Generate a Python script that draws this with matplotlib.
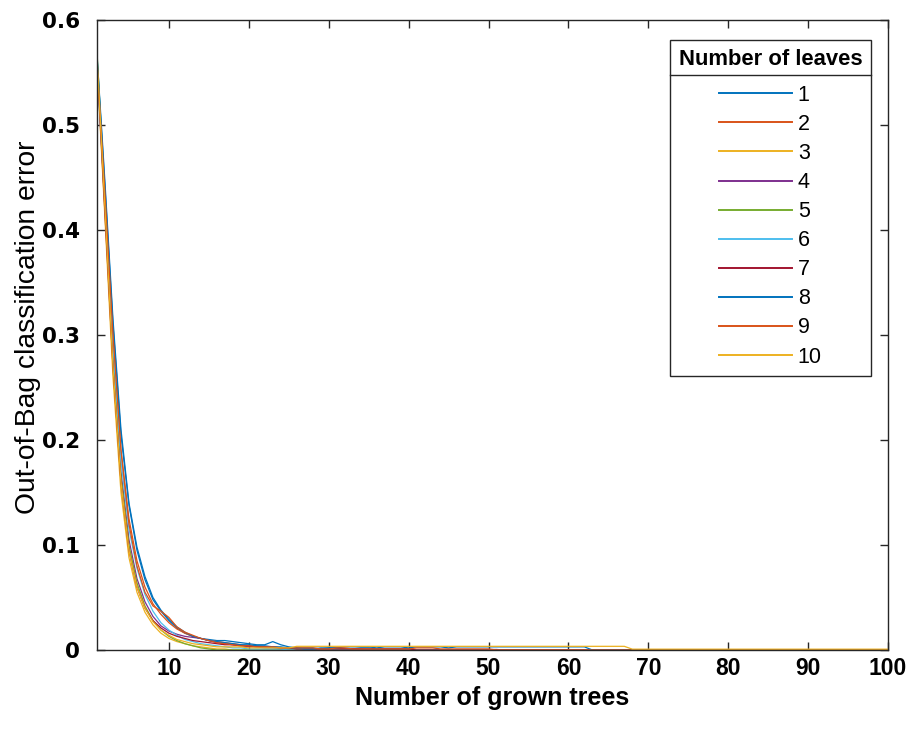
import matplotlib
matplotlib.use("Agg")
import matplotlib.pyplot as plt
from matplotlib.lines import Line2D
import numpy as np

# ---------------- data ----------------
n_trees = list(range(1, 101))
leaf_labels = ["1", "2", "3", "4", "5", "6", "7", "8", "9", "10"]

def pad(vals, tail=0.0):
    return vals + [tail] * (100 - len(vals))

err_1 = pad([0.565, 0.44, 0.31, 0.205, 0.138, 0.095, 0.067, 0.048, 0.037, 0.028,
             0.021, 0.016, 0.013, 0.011, 0.010, 0.009, 0.009, 0.008, 0.007, 0.006,
             0.005, 0.005, 0.008, 0.005, 0.003, 0.002, 0.002, 0.002, 0.001, 0.002,
             0.002, 0.001, 0.001, 0.002, 0.002, 0.001, 0.001, 0.001, 0.001, 0.001])
err_2 = pad([0.562, 0.43, 0.30, 0.19, 0.125, 0.085, 0.060, 0.044, 0.034, 0.026,
             0.020, 0.016, 0.013, 0.011, 0.009, 0.008, 0.007, 0.006, 0.005, 0.004,
             0.004, 0.003, 0.003, 0.002, 0.002, 0.001, 0.001, 0.001])
err_3 = pad([0.558, 0.41, 0.26, 0.15, 0.088, 0.055, 0.036, 0.024, 0.016, 0.011,
             0.008, 0.006, 0.004, 0.003, 0.002, 0.001, 0.001])
err_4 = pad([0.563, 0.42, 0.28, 0.17, 0.105, 0.068, 0.046, 0.032, 0.023, 0.018,
             0.015, 0.013, 0.012, 0.011, 0.009, 0.007, 0.006, 0.005, 0.004, 0.003,
             0.003, 0.002, 0.002, 0.001, 0.001, 0.001, 0.001, 0.001, 0.001, 0.001,
             0.001, 0.001, 0.001, 0.001, 0.0, 0.0, 0.0, 0.0, 0.0, 0.0,
             0.0, 0.0, 0.0, 0.0, 0.0, 0.0005, 0.0005, 0.0005, 0.0005, 0.0005, 0.0005])
err_5 = pad([0.570, 0.43, 0.28, 0.165, 0.10, 0.064, 0.042, 0.028, 0.019, 0.013,
             0.009, 0.006, 0.004, 0.002, 0.001])
err_6 = pad([0.555, 0.425, 0.29, 0.18, 0.115, 0.078, 0.053, 0.037, 0.026, 0.019,
             0.014, 0.010, 0.008, 0.006, 0.005, 0.004, 0.003, 0.002, 0.002, 0.001,
             0.001, 0.001, 0.001, 0.001])
err_7 = pad([0.560, 0.415, 0.27, 0.16, 0.095, 0.060, 0.040, 0.028, 0.021, 0.016,
             0.013, 0.011, 0.009, 0.008, 0.007, 0.006, 0.005, 0.005, 0.004, 0.004,
             0.003, 0.003, 0.003, 0.002, 0.002, 0.001, 0.001, 0.001, 0.001, 0.001,
             0.001, 0.001, 0.001, 0.001, 0.001, 0.001, 0.001, 0.001, 0.001, 0.001])
err_8 = pad([0.567, 0.445, 0.315, 0.21, 0.14, 0.098, 0.070, 0.050, 0.038, 0.029,
             0.022, 0.017, 0.013, 0.011, 0.009, 0.008, 0.007, 0.006, 0.005, 0.005,
             0.004, 0.004, 0.003, 0.003, 0.002, 0.002, 0.001, 0.001, 0.002, 0.002,
             0.002, 0.003, 0.003, 0.003, 0.003, 0.002, 0.003, 0.003, 0.003, 0.002,
             0.003, 0.003, 0.003, 0.003, 0.002, 0.003, 0.003, 0.003, 0.003, 0.003,
             0.003, 0.003, 0.003, 0.003, 0.003, 0.003, 0.003, 0.003, 0.003, 0.003,
             0.003, 0.003])
err_9 = pad([0.560, 0.435, 0.30, 0.19, 0.12, 0.080, 0.055, 0.042, 0.037, 0.031,
             0.022, 0.017, 0.014, 0.011, 0.009, 0.007, 0.006, 0.005, 0.004, 0.004,
             0.003, 0.003, 0.003, 0.002, 0.002, 0.002, 0.002, 0.002, 0.001, 0.001,
             0.002, 0.002, 0.001, 0.001, 0.001, 0.001, 0.001, 0.001, 0.001, 0.001,
             0.002, 0.002, 0.002, 0.001, 0.001, 0.001, 0.001, 0.001, 0.001, 0.001])
err_10 = pad([0.565, 0.42, 0.27, 0.16, 0.095, 0.060, 0.040, 0.027, 0.019, 0.014,
              0.010, 0.008, 0.006, 0.005, 0.004, 0.003, 0.003, 0.003, 0.003, 0.002,
              0.002, 0.002, 0.002, 0.002, 0.002, 0.0035, 0.0035, 0.0035, 0.0035, 0.0035,
              0.0035, 0.0035, 0.0035, 0.0035, 0.0035, 0.0035, 0.0035, 0.0035, 0.0035, 0.0035,
              0.0035, 0.0035, 0.0035, 0.0035, 0.0035, 0.0035, 0.0035, 0.0035, 0.0035, 0.0035,
              0.0035, 0.0035, 0.0035, 0.0035, 0.0035, 0.0035, 0.0035, 0.0035, 0.0035, 0.0035,
              0.0035, 0.0035, 0.0035, 0.0035, 0.0035, 0.0035, 0.0035], tail=0.0008)

series = [err_1, err_2, err_3, err_4, err_5, err_6, err_7, err_8, err_9, err_10]

x_ticks = [10, 20, 30, 40, 50, 60, 70, 80, 90, 100]
y_ticks = [0, 0.1, 0.2, 0.3, 0.4, 0.5, 0.6]
y_tick_labels = ["0", "0.1", "0.2", "0.3", "0.4", "0.5", "0.6"]

colors = ["#0072BD", "#D95319", "#EDB120", "#7E2F8E", "#77AC30",
          "#4DBEEE", "#A2142F", "#0072BD", "#D95319", "#EDB120"]

# ---------------- figure ----------------
W, H = 912, 734
fig = plt.figure(figsize=(W / 100, H / 100), dpi=100)
ax = fig.add_axes([97 / W, 1 - 650 / H, (888 - 97) / W, (650 - 20) / H])

for vals, c, lab in zip(series, colors, leaf_labels):
    ax.plot(n_trees, vals, color=c, lw=0.9, label=lab)

ax.set_xlim(1, 100)
ax.set_ylim(0, 0.6)
ax.set_xticks(x_ticks)
ax.set_yticks(y_ticks)
ax.set_yticklabels(y_tick_labels)

for s in ax.spines.values():
    s.set_color("#262626")
    s.set_linewidth(1.0)
ax.tick_params(direction="in", length=6, width=1, color="#262626",
               top=True, right=True)
for t in ax.get_xticklabels():
    t.set_fontfamily("Liberation Sans")
    t.set_fontweight("bold")
    t.set_fontsize(16.5)
for t in ax.get_yticklabels():
    t.set_fontfamily("DejaVu Sans")
    t.set_fontweight("bold")
    t.set_fontsize(15.5)
ax.tick_params(axis="x", pad=5)
ax.tick_params(axis="y", pad=12)

ax.set_xlabel("Number of grown trees", fontfamily="Liberation Sans",
              fontweight="bold", fontsize=18, labelpad=4)
ax.set_ylabel("Out-of-Bag classification error", fontfamily="Liberation Sans",
              fontsize=20.3)
ax.yaxis.set_label_coords((41 - 97) / 791, (650 - 327) / 630)

fs = 15.5
leg = ax.legend(loc="upper right", bbox_to_anchor=(871 / W, 1 - 40 / H),
                bbox_transform=fig.transFigure, borderaxespad=0,
                title="Number of leaves",
                prop={"family": "Liberation Sans", "size": fs},
                title_fontproperties={"family": "Liberation Sans", "weight": "bold", "size": 15.8},
                handlelength=3.4, handletextpad=0.25, labelspacing=0.375,
                fancybox=False, edgecolor="#262626", framealpha=1,
                borderpad=0.4)
leg.get_frame().set_linewidth(1.0)
leg._legend_box.sep = 11
for h in leg.get_lines():
    h.set_linewidth(1.4)

fig.canvas.draw()
r = fig.canvas.get_renderer()
fb = leg.get_frame().get_window_extent(r)
tb = leg.get_title().get_window_extent(r)
ysep = tb.y0 - 5
inv = fig.transFigure.inverted()
(x0f, yf), (x1f, _) = inv.transform([(fb.x0, ysep), (fb.x1, ysep)])
fig.add_artist(Line2D([x0f, x1f], [yf, yf], transform=fig.transFigure,
                      color="#262626", lw=1.0))

fig.savefig("out.png", dpi=100)
